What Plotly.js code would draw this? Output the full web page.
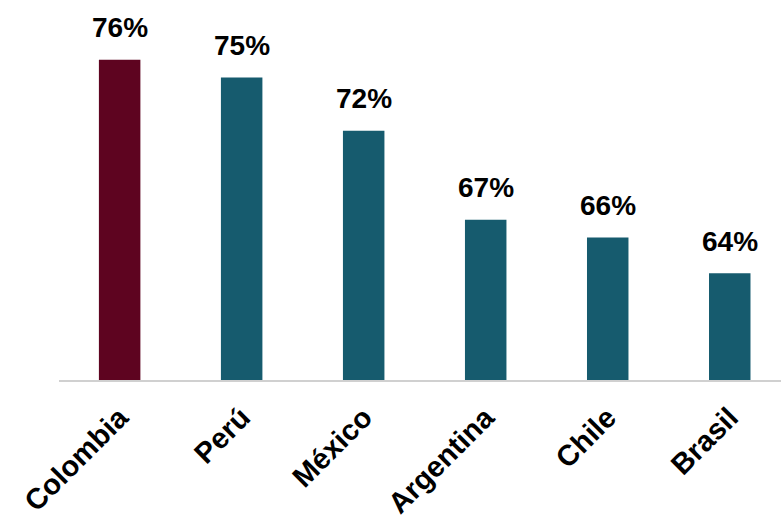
<!DOCTYPE html>
<html>
<head>
<meta charset="utf-8">
<script src="https://cdn.plot.ly/plotly-3.0.1.min.js"></script>
<style>html,body{margin:0;padding:0;background:#fff;}#chart{width:781px;height:522px;}</style>
</head>
<body>
<div id="chart"></div>
<script>
const countries = ["Colombia", "Perú", "México", "Argentina", "Chile", "Brasil"];
const values = [76, 75, 72, 67, 66, 64];
const colors = ["#5e0420", "#165b6e", "#165b6e", "#165b6e", "#165b6e", "#165b6e"];
const labels = values.map(v => v + "%");

const trace = {
  type: "bar",
  x: countries,
  y: values,
  marker: {color: colors},
  width: 0.34,
  hoverinfo: "none"
};

const annotations = countries.map((c, i) => ({
  x: c, y: values[i], text: labels[i], showarrow: false,
  xref: "x", yref: "y", yanchor: "middle", yshift: 32,
  font: {family: "Liberation Sans, Arial, sans-serif", size: 28, color: "#000", weight: "bold"}
}));

const layout = {
  width: 781, height: 522,
  margin: {l: 59, r: 0, t: 0, b: 142},
  paper_bgcolor: "#fff", plot_bgcolor: "#fff",
  showlegend: false,
  xaxis: {
    range: [-0.497, 5.42], automargin: false,
    tickangle: -45, showgrid: false, zeroline: false,
    showline: true, linecolor: "#d0d0d0", linewidth: 2,
    ticks: "", ticklabelstandoff: 7,
    tickfont: {family: "Liberation Sans, Arial, sans-serif", size: 29, color: "#000", weight: "bold"}
  },
  yaxis: {
    range: [58, 79.35], visible: false, showgrid: false, zeroline: false, automargin: false
  },
  annotations: annotations
};

Plotly.newPlot("chart", [trace], layout, {displayModeBar: false, staticPlot: true});
</script>
</body>
</html>
